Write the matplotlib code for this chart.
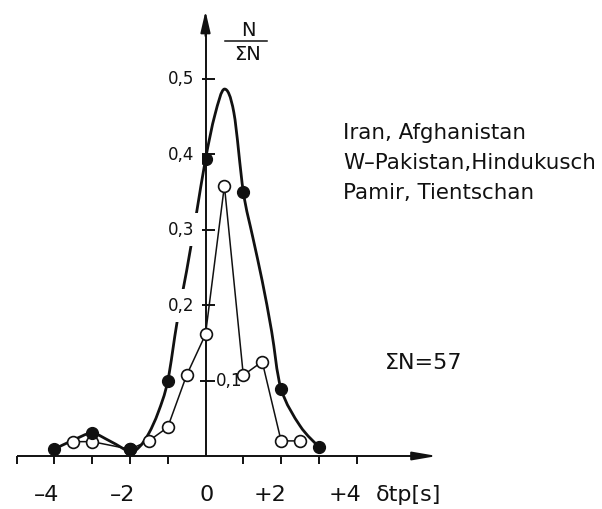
import numpy as np
import matplotlib
matplotlib.use("Agg")
import matplotlib.pyplot as plt
from matplotlib.path import Path
from matplotlib.patches import PathPatch

# ── data ───────────────────────────────────────────────────────────────────
# filled circles (thick smoothed curve)
full_x = [-4, -3, -2, -1, 0, 1, 2, 3]
full_y = [0.009, 0.030, 0.009, 0.099, 0.393, 0.350, 0.089, 0.012]

# hand-drawn smooth curve through the filled circles
curve_x = [-4, -3.5, -3, -2.5, -2, -1.75, -1.5, -1.25, -1, -0.75, -0.5,
           -0.25, 0, 0.25, 0.5, 0.75, 1, 1.25, 1.5, 1.75, 2, 2.5, 3]
curve_y = [0.009, 0.021, 0.030, 0.019, 0.006, 0.012, 0.030, 0.058, 0.099,
           0.178, 0.245, 0.318, 0.393, 0.452, 0.486, 0.455, 0.350, 0.290,
           0.232, 0.165, 0.089, 0.040, 0.012]

# open circles (thin polyline)
open_x = [-3.5, -3, -2, -1.5, -1, -0.5, 0, 0.5, 1, 1.5, 2, 2.5]
open_y = [0.019, 0.019, 0.009, 0.020, 0.038, 0.107, 0.161, 0.358, 0.107,
          0.125, 0.020, 0.020]

xtick_minor = [-5, -4, -3, -2, -1, 1, 2, 3, 4]
xtick_major = [-4, -2, 0, 2, 4]
xtick_text = ["–4", "–2", "0", "+2", "+4"]
ytick_vals = [0.1, 0.2, 0.3, 0.4, 0.5]
ytick_text = ["0,1", "0,2", "0,3", "0,4", "0,5"]

region_lines = ["Iran, Afghanistan", "W–Pakistan,Hindukusch", "Pamir, Tientschan"]

# ── page geometry (pixels of the 602x510 scan) ─────────────────────────────
W, H = 602, 510
PX_X0, PX_PER_X = 205.5, 37.8      # x = 0 column, pixels per second
PX_Y0, PX_PER_Y = 457.0, 755.0     # baseline row, pixels per unit N/ΣN
INK = "#111111"

plt.rcParams.update({"font.family": "DejaVu Sans"})

fig = plt.figure(figsize=(W / 100, H / 100), dpi=100)
ax = fig.add_axes([0, 0, 1, 1])
ax.set_xlim(-PX_X0 / PX_PER_X, (W - PX_X0) / PX_PER_X)
ax.set_ylim((PX_Y0 - H) / PX_PER_Y, PX_Y0 / PX_PER_Y)
ax.axis("off")

dx = 1 / PX_PER_X   # one pixel in data units
dy = 1 / PX_PER_Y


def fx(px):
    return px / W


def fy(py):
    return 1 - py / H


# axes with arrow heads
ax.plot([-5, 5.8], [0, 0], color=INK, lw=1.4, zorder=2, solid_capstyle="butt")
ax.annotate("", xy=(231.5 * dx, 0), xytext=(205 * dx, 0),
            arrowprops=dict(arrowstyle="-|>,head_length=1.45,head_width=0.25",
                            color=INK, lw=1.4, mutation_scale=10,
                            shrinkA=0, shrinkB=0), zorder=2)
ax.plot([0, 0], [0, 0.56], color=INK, lw=1.4, zorder=2, solid_capstyle="butt")
ax.annotate("", xy=(0, 445 * dy), xytext=(0, 420 * dy),
            arrowprops=dict(arrowstyle="-|>,head_length=1.3,head_width=0.3",
                            color=INK, lw=1.4, mutation_scale=10,
                            shrinkA=0, shrinkB=0), zorder=2)

ax.vlines(xtick_minor, -8 * dy, 0, color=INK, lw=1.4, zorder=2)
ax.hlines(ytick_vals, -6 * dx, 9 * dx, color=INK, lw=1.4, zorder=2)

# x tick labels
for v, t in zip(xtick_major, xtick_text):
    if v == 0:
        ax.text(v + 1 * dx, -38 * dy, t, ha="center", va="center",
                fontsize=16, color=INK)
    else:
        ax.text(v + 5 * dx, -38 * dy, t, ha="right", va="center",
                fontsize=16, color=INK)
ax.text(4 + 19 * dx, -38 * dy, "δtp[s]", ha="left", va="center",
        fontsize=16, color=INK)

# y tick labels (white box breaks the curve like in the original)
for v, t in zip(ytick_vals, ytick_text):
    if v == 0.1:
        ax.text(10 * dx, v, t, ha="left", va="center", fontsize=12,
                color=INK, zorder=6)
    else:
        ax.text(-11 * dx, v, t, ha="right", va="center", fontsize=12,
                color=INK, zorder=6,
                bbox=dict(boxstyle="square,pad=0.45", fc="white", ec="none"))

# y label  N / ΣN
fig.text(fx(248), fy(30), "N", ha="center", va="center", fontsize=14, color=INK)
fig.text(fx(248), fy(55), "ΣN", ha="center", va="center", fontsize=14, color=INK)
ax.plot([19.5 * dx, 61.5 * dx], [415 * dy, 415 * dy], color=INK, lw=1.1)


# smooth curve through the read points (Catmull-Rom as cubic Béziers)
def smooth_path(xs, ys):
    pts = np.column_stack([xs, ys]).astype(float)
    verts = [pts[0]]
    codes = [Path.MOVETO]
    n = len(pts)
    for i in range(n - 1):
        p0 = pts[i - 1] if i > 0 else pts[i]
        p1, p2 = pts[i], pts[i + 1]
        p3 = pts[i + 2] if i + 2 < n else pts[i + 1]
        verts += [p1 + (p2 - p0) / 6, p2 - (p3 - p1) / 6, p2]
        codes += [Path.CURVE4] * 3
    return Path(verts, codes)


ax.add_patch(PathPatch(smooth_path(curve_x, curve_y), fc="none", ec=INK,
                       lw=2.0, zorder=3, capstyle="round", joinstyle="round"))

ax.plot(open_x, open_y, color=INK, lw=1.1, zorder=3)
ax.plot(open_x, open_y, ls="none", marker="o", ms=8.5, mfc="white",
        mec=INK, mew=1.2, zorder=4)
ax.plot(full_x, full_y, ls="none", marker="o", ms=8.5, mfc=INK,
        mec=INK, zorder=5)

# annotations
for i, line in enumerate(region_lines):
    fig.text(fx(343), fy(133 + 30 * i), line, ha="left", va="center",
             fontsize=15.4, color=INK)
fig.text(fx(385), fy(363), "ΣN=57", ha="left", va="center",
         fontsize=16, color=INK)

fig.savefig("out.png", dpi=100)
